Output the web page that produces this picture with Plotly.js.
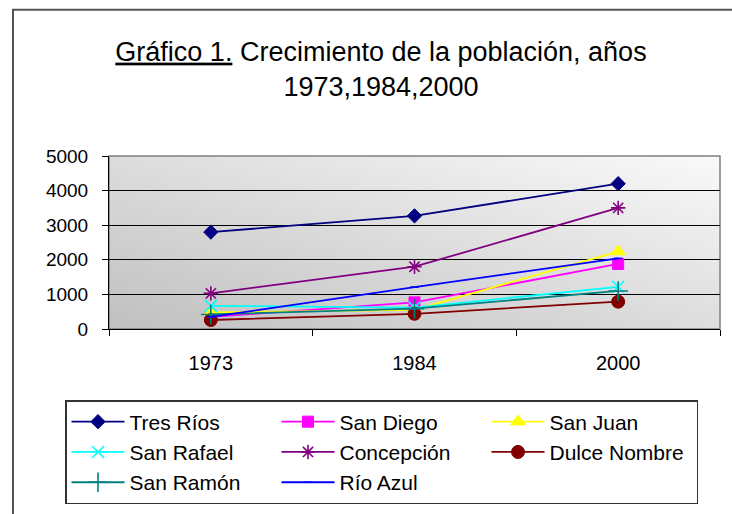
<!DOCTYPE html>
<html>
<head>
<meta charset="utf-8">
<script src="https://cdn.plot.ly/plotly-3.0.1.min.js"></script>
<style>
  html, body { margin: 0; padding: 0; background: #ffffff; }
  #chart { width: 732px; height: 514px; }
</style>
</head>
<body>
<div id="chart"></div>
<script>
// ---- data ----
const years = ["1973", "1984", "2000"];
const tresRios = [2800, 3270, 4200];
const sanDiego = [350, 770, 1880];
const sanJuan = [480, 550, 2240];
const sanRafael = [670, 620, 1220];
const concepcion = [1030, 1800, 3500];
const dulceNombre = [260, 440, 790];
const sanRamon = [420, 590, 1100];
const rioAzul = [350, 1210, 2040];
const yTicks = [0, 1000, 2000, 3000, 4000, 5000];

// ---- gradient background for plot area ----
function gradientImage() {
  const c = document.createElement('canvas');
  c.width = 200; c.height = 200;
  const ctx = c.getContext('2d');
  const g = ctx.createLinearGradient(0, 200, 200, 0);
  g.addColorStop(0, '#c0c0c0');
  g.addColorStop(1, '#fafafa');
  ctx.fillStyle = g;
  ctx.fillRect(0, 0, 200, 200);
  return c.toDataURL('image/png');
}

const FONT = 'Liberation Sans, Arial, sans-serif';

function series(name, y, color, symbol, size, filled) {
  return {
    type: 'scatter', mode: 'lines+markers', name: name,
    x: years, y: y,
    line: { color: color, width: 1.8 },
    marker: {
      symbol: symbol, size: size, color: color,
      line: { color: color, width: filled ? 1 : 1.6 }
    }
  };
}

const traces = [
  series('Tres Ríos', tresRios, '#000080', 'diamond', 11, true),
  series('San Diego', sanDiego, '#ff00ff', 'square', 11, true),
  series('San Juan', sanJuan, '#ffff00', 'triangle-up', 13, true),
  series('San Rafael', sanRafael, '#00ffff', 'x-thin-open', 12, false),
  series('Concepción', concepcion, '#800080', 'asterisk-open', 12, false),
  series('Dulce Nombre', dulceNombre, '#800000', 'circle', 13, true),
  series('San Ramón', sanRamon, '#008080', 'cross-thin-open', 14, false),
  series('Río Azul', rioAzul, '#0000ff', 'line-ew-open', 6, false)
];

const layout = {
  width: 732, height: 514,
  margin: { l: 109, r: 12, t: 156, b: 184, pad: 0 },
  paper_bgcolor: '#ffffff',
  plot_bgcolor: '#dcdcdc',
  font: { family: FONT, color: '#000000' },
  title: {
    text: "<span style='text-decoration:underline'>Gráfico 1.</span> Crecimiento de la población, años<br>1973,1984,2000",
    font: { family: FONT, size: 27, color: '#000000' },
    xref: 'container', x: 0.5205, xanchor: 'center',
    yref: 'container', y: 0.882, yanchor: 'top'
  },
  xaxis: {
    type: 'category',
    range: [-0.5, 2.5],
    tickson: 'boundaries',
    ticks: 'outside', ticklen: 6, tickcolor: '#000000', tickwidth: 1,
    showline: true, linecolor: '#000000', linewidth: 1,
    showgrid: false, zeroline: false,
    tickfont: { family: FONT, size: 20, color: '#000000' },
    ticklabelstandoff: 16,
    fixedrange: true
  },
  yaxis: {
    range: [0, 5000],
    tickvals: yTicks,
    ticktext: yTicks.map(String),
    ticks: 'outside', ticklen: 6, tickcolor: '#000000', tickwidth: 1,
    showline: true, linecolor: '#000000', linewidth: 1,
    showgrid: true, gridcolor: '#000000', gridwidth: 1,
    zeroline: false,
    tickfont: { family: FONT, size: 19, color: '#000000' },
    ticklabelstandoff: 10,
    fixedrange: true
  },
  showlegend: true,
  legend: {
    orientation: 'h',
    x: (65 - 109) / 611, xanchor: 'left',
    y: (330 - 400) / 174, yanchor: 'top',
    bgcolor: '#ffffff',
    bordercolor: '#333333', borderwidth: 1.5,
    font: { family: FONT, size: 21, color: '#000000' },
    itemwidth: 53,
    entrywidth: 142,
    traceorder: 'normal',
    itemclick: false, itemdoubleclick: false
  },
  images: [{
    source: gradientImage(),
    xref: 'paper', yref: 'paper',
    x: 0, y: 1, sizex: 1, sizey: 1,
    xanchor: 'left', yanchor: 'top',
    sizing: 'stretch', layer: 'below'
  }],
  shapes: [
    { type: 'rect', xref: 'paper', yref: 'paper', x0: 0, x1: 1, y0: 0, y1: 1,
      line: { color: '#808080', width: 1.5 }, layer: 'below' },
    { type: 'rect', xref: 'paper', yref: 'paper',
      x0: (13 - 109) / 611, x1: 2, y0: -3, y1: (330 - 9) / 174,
      line: { color: '#555555', width: 2 }, fillcolor: 'rgba(0,0,0,0)', layer: 'below' }
  ]
};

Plotly.newPlot('chart', traces, layout, { displayModeBar: false, staticPlot: true });
</script>
</body>
</html>
